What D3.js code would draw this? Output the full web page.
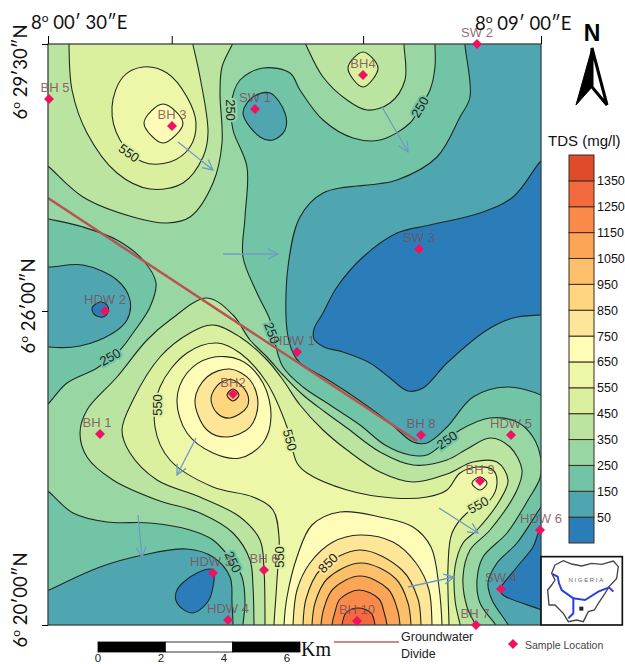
<!DOCTYPE html>
<meta charset="utf-8">
<script src="https://d3js.org/d3.v7.min.js"></script>
<style>
  body { margin: 0; background: white; }
  text { font-family: "Liberation Sans", Arial, sans-serif; }
</style>
<div id="my_dataviz"></div>
<script>
// TDS band limits (mg/l) and colours, lowest band first
var tdsLevels = [50, 150, 250, 350, 450, 550, 650, 750, 850, 950, 1050, 1150, 1250, 1350];
var bandColors = ["#2b7db9", "#4fa6b0", "#71c4a5", "#98d6a4", "#bbe4a0", "#dbf09e", "#eef7a8", "#fefcb6",
                  "#fee698", "#fed680", "#fdbf69", "#fca557", "#fa8a4a", "#f26a3e", "#e04b2c"];

// isolines, as [east, north] in map units (one unit is about 30 m)
var iso50Main = [[500,470],[492,463],[465,428],[432,412],[382,400],[349,392],[315,368],[289,338],[275,312],[266,296],[266,286],[276,278],[295,273],[322,262],[342,247],[360,234],[375,237],[399,262],[439,295],[465,307],[493,310],[500,310]];
var iso50East = [[500,100],[492,95],[485,78],[469,58],[452,35],[455,30],[491,16],[500,12]];
var iso50Hdw3 = [[165,55],[149,52],[129,35],[129,22],[144,12],[159,22],[165,38]];
var iso50Hdw2 = [[44,317],[52,323],[59,320],[60,313],[55,308],[47,310]];

var iso150Main = [[417,589],[417,580],[422,528],[412,508],[389,468],[349,445],[275,432],[252,408],[240,358],[239,295],[245,272],[252,262],[277,247],[299,233],[322,217],[342,202],[365,183],[379,182],[399,198],[425,228],[459,238],[493,230],[500,225]];
var iso150East = [[500,127],[493,118],[469,82],[449,62],[440,42],[444,25],[459,2],[464,-7]];
var iso150Sw1 = [[195,512],[205,528],[222,532],[237,512],[237,495],[225,485],[212,488]];
var iso150West = [[-8,359],[1,358],[35,360],[69,345],[82,325],[79,305],[65,292],[32,279],[1,278],[-8,280]];
var iso150South = [[-8,31],[1,35],[52,58],[95,70],[139,76],[165,68],[182,48],[184,22],[185,0],[185,-7]];

var iso250Main = [[387,589],[387,580],[387,558],[382,535],[372,518],[362,502],[332,485],[305,487],[275,505],[252,535],[242,552],[215,557],[192,545],[183,520],[185,495],[199,458],[197,408],[195,368],[209,332],[222,305],[227,282],[235,258],[255,238],[282,220],[312,200],[337,180],[362,170],[379,170],[399,185],[412,195],[442,207],[469,203],[485,188],[493,165],[492,147],[480,125],[459,92],[435,68],[429,45],[432,22],[447,1],[452,-7]];
var iso250West = [[-8,408],[1,406],[35,398],[69,385],[95,365],[108,342],[102,318],[85,292],[72,275],[49,257],[19,242],[1,222],[-8,213]];
var iso250South = [[-8,140],[1,133],[25,112],[59,103],[102,102],[142,95],[165,85],[185,63],[194,48],[197,22],[195,0],[195,-7]];

var iso350North = [[-8,465],[1,458],[35,428],[85,408],[119,402],[142,408],[165,442],[174,482],[172,532],[174,558],[184,580],[188,589]];
var iso350Bh4 = [[254,589],[258,580],[275,548],[299,525],[319,515],[342,522],[357,545],[356,580],[356,589]];
var iso350Central = [[206,-7],[206,0],[205,38],[202,65],[185,92],[152,112],[109,125],[65,145],[39,168],[32,192],[39,215],[69,248],[99,285],[122,305],[159,327],[185,310],[202,285],[219,268],[235,250],[255,230],[277,213],[299,197],[332,173],[365,160],[399,165],[419,176],[442,187],[462,178],[474,155],[469,135],[442,95],[422,75],[415,48],[419,18],[427,1],[430,-7]];

var iso450North = [[21,589],[21,580],[24,535],[39,492],[69,452],[102,436],[135,442],[155,468],[160,492],[152,548],[145,580],[143,589]];
var iso450Bh4 = [[300,557],[315,573],[330,557],[315,538]];
var iso450Central = [[217,-7],[217,0],[216,55],[212,85],[192,108],[152,128],[109,145],[82,172],[74,195],[85,225],[112,268],[142,292],[165,300],[192,288],[219,265],[235,245],[252,220],[275,195],[299,175],[332,153],[365,143],[399,151],[425,163],[449,163],[460,145],[452,125],[429,95],[415,82],[407,58],[407,25],[412,1],[414,-7]];

var iso550Bh3 = [[72,485],[64,518],[75,548],[95,558],[119,552],[139,528],[148,502],[142,478],[122,463],[95,463]];
var iso550Central = [[226,-7],[226,0],[229,45],[231,88],[225,115],[205,128],[165,138],[122,165],[107,198],[112,238],[139,272],[169,282],[192,272],[219,242],[239,198],[249,162],[259,152],[299,135],[345,127],[379,128],[399,135],[412,152],[429,158],[445,155],[449,142],[442,125],[419,112],[404,92],[400,58],[401,0],[401,-7]];

var iso650Bh3 = [[96,502],[115,521],[135,502],[115,482]];
var iso650Bh9 = [[424,142],[432,148],[439,142],[432,135]];
var iso650Bh2 = [[129,225],[139,252],[162,267],[192,265],[215,242],[223,208],[215,182],[192,167],[165,172],[139,192]];
var iso650Bh10 = [[236,-7],[236,0],[239,28],[249,68],[264,100],[292,113],[332,108],[365,98],[383,78],[391,38],[394,0],[394,-7]];

var iso750Bh2 = [[147,225],[159,248],[182,256],[202,245],[210,222],[202,198],[179,188],[159,195]];
var iso750Bh10 = [[245,-7],[245,0],[249,35],[262,62],[285,83],[312,90],[345,83],[368,62],[381,35],[384,0],[384,-7]];
var iso850Bh2 = [[163,227],[172,242],[185,245],[199,232],[199,218],[182,207],[169,212]];
var iso850Bh10 = [[255,-7],[255,0],[258,26],[272,55],[312,75],[354,55],[370,26],[373,0],[373,-7]];
var iso950Bh2 = [[179,230],[185,236],[191,230],[185,224]];
var iso950Bh10 = [[264,-7],[264,0],[267,22],[279,46],[313,62],[348,46],[360,22],[363,0],[363,-7]];
var iso1050Bh10 = [[273,-7],[273,0],[276,17],[285,36],[312,49],[340,36],[349,17],[352,0],[352,-7]];
var iso1150Bh10 = [[284,-7],[284,0],[287,13],[292,26],[311,35],[331,26],[336,13],[339,0],[339,-7]];
var iso1250Bh10 = [[294,-7],[294,0],[298,12],[310,17],[323,12],[327,0],[327,-7]];

// sample locations
var sampleNames = ["BH 5","BH 3","SW 1","BH4","SW 2","SW 3","HDW 2","HDW 1","BH2","BH 1","BH 8","HDW 5","BH 9","HDW 6","HDW 3","BH 6","SW 4","HDW 4","BH 7","BH 10"];
var sampleEast = [1,124,207,315,429,371,57,249,185,52,373,463,432,492,165,216,453,180,428,309];
var sampleNorth = [526,499,516,550,581,376,314,273,231,191,190,190,144,95,52,55,36,5,0,4];
var sampleNudge = [6,0,0,0,0,0,0,-3,0,-3,0,0,0,1,-2,0,0,0,-1,0];

// contour labels: text, east, north, angle, tds beside the line
var contourLabels = [[550,81,472,35,500],[250,183,515,90,300],[250,372,518,-60,200],[250,224,292,70,200],[250,62,268,-30,200],[550,109,220,-90,500],[550,242,185,75,500],[250,399,185,-35,200],[550,430,120,-30,500],[850,280,62,-45,800],[550,231,68,-90,500],[250,185,63,65,200]];

// groundwater flow arrows [east0, north0, east1, north1] and the divide
var flowArrows = [[130,483,165,455],[175,371,230,371],[334,518,360,473],[148,187,129,150],[90,110,94,68],[391,117,430,92],[360,38,406,48]];
var divideLine = [[0,427],[369,184]];

// graticule
var lonTicks = [30, 158, 356, 540];   // seconds after 8 deg 00'
var latTicks = [0, 360, 570];         // seconds after 6 deg 20'
var scaleKm = [0, 2, 4, 6];

// inset map of Nigeria
var nigeriaOutline = [[60,45],[85,32],[110,42],[140,48],[170,40],[200,43],[235,33],[250,50],[245,85],[222,110],[210,130],[190,160],[178,180],[160,185],[145,215],[125,210],[100,215],[85,190],[60,165],[42,165],[38,120],[50,105],[60,90],[50,70]];
var nigerRiver = [[52,72],[68,80],[72,100],[80,120],[115,145],[115,190],[100,205]];
var benueRiver = [[115,145],[150,150],[190,125],[222,112],[235,125]];

var margin = {top: 44, right: 84, bottom: 39, left: 48},
    width = 625 - margin.left - margin.right,
    height = 664 - margin.top - margin.bottom;

var svg = d3.select("#my_dataviz").append("svg")
    .attr("width", 625).attr("height", 664).style("display", "block");
var map = svg.append("g").attr("transform", "translate(" + margin.left + "," + margin.top + ")");

var x = d3.scaleLinear().domain([0, 493]).range([0, width]);
var y = d3.scaleLinear().domain([0, 581]).range([height, 0]);
var color = d3.scaleThreshold().domain(tdsLevels).range(bandColors);

var openLine = d3.line().x(function(d) { return x(d[0]); }).y(function(d) { return y(d[1]); }).curve(d3.curveCatmullRom.alpha(0.5));
var ringLine = d3.line().x(function(d) { return x(d[0]); }).y(function(d) { return y(d[1]); }).curve(d3.curveCatmullRomClosed.alpha(0.5));

// side: which way the fill goes from the line. shut: where an open line is closed, off the frame
var S = -12, N = 595, W = -12, E = 505;
var contours = [
  {level:250, below:true, pts:iso250Main, shut:[[E,-7],[E,N],[387,N]]},
  {level:250, below:true, pts:iso250West, shut:[[W,213],[W,408]]},
  {level:250, below:true, pts:iso250South, shut:[[195,S],[W,S],[W,140]]},
  {level:150, below:true, pts:iso150Main, shut:[[E,225],[E,N],[417,N]]},
  {level:150, below:true, pts:iso150East, shut:[[464,S],[E,S],[E,127]]},
  {level:150, below:true, pts:iso150Sw1},
  {level:150, below:true, pts:iso150West, shut:[[W,280],[W,359]]},
  {level:150, below:true, pts:iso150South, shut:[[185,S],[W,S],[W,31]]},
  {level:50, below:true, pts:iso50Main, shut:[[E,310],[E,470]]},
  {level:50, below:true, pts:iso50East, shut:[[E,12],[E,100]]},
  {level:50, below:true, pts:iso50Hdw3},
  {level:50, below:true, pts:iso50Hdw2},
  {level:350, pts:iso350North, shut:[[188,N],[W,N],[W,465]]},
  {level:350, pts:iso350Bh4, shut:[[356,N],[254,N]]},
  {level:350, pts:iso350Central, shut:[[430,S],[206,S]]},
  {level:450, pts:iso450North, shut:[[143,N],[21,N]]},
  {level:450, pts:iso450Bh4},
  {level:450, pts:iso450Central, shut:[[414,S],[217,S]]},
  {level:550, pts:iso550Bh3},
  {level:550, pts:iso550Central, shut:[[401,S],[226,S]]},
  {level:650, pts:iso650Bh3},
  {level:650, pts:iso650Bh9},
  {level:650, pts:iso650Bh2},
  {level:650, pts:iso650Bh10, shut:[[394,S],[236,S]]},
  {level:750, pts:iso750Bh2},
  {level:750, pts:iso750Bh10, shut:[[384,S],[245,S]]},
  {level:850, pts:iso850Bh2},
  {level:850, pts:iso850Bh10, shut:[[373,S],[255,S]]},
  {level:950, pts:iso950Bh2},
  {level:950, pts:iso950Bh10, shut:[[363,S],[264,S]]},
  {level:1050, pts:iso1050Bh10, shut:[[352,S],[273,S]]},
  {level:1150, pts:iso1150Bh10, shut:[[339,S],[284,S]]},
  {level:1250, pts:iso1250Bh10, shut:[[327,S],[294,S]]}
];

function fillPath(c) {
  if (!c.shut) return ringLine(c.pts);
  return openLine(c.pts) + c.shut.map(function(p) { return "L" + x(p[0]) + "," + y(p[1]); }).join("") + "Z";
}

svg.append("defs").append("clipPath").attr("id", "frame").append("rect").attr("width", width).attr("height", height);
var head = svg.select("defs").append("marker").attr("id", "flowHead")
    .attr("viewBox", "-11 -6 12 12").attr("markerWidth", 12).attr("markerHeight", 12)
    .attr("markerUnits", "userSpaceOnUse").attr("orient", "auto");
head.append("path").attr("d", "M-10,-5L0,0L-10,5").attr("fill", "none").attr("stroke", "#6c9cc6").attr("stroke-width", 1.3);

var inner = map.append("g").attr("clip-path", "url(#frame)");
inner.append("rect").attr("width", width).attr("height", height).attr("fill", color(300));

inner.selectAll(".band").data(contours).enter().append("path")
    .attr("class", "band")
    .attr("d", fillPath)
    .attr("fill", function(d) { return color(d.below ? d.level - 1 : d.level + 1); });

inner.selectAll(".iso").data(contours).enter().append("path")
    .attr("class", "iso")
    .attr("d", function(d) { return d.shut ? openLine(d.pts) : ringLine(d.pts); })
    .attr("fill", "none").attr("stroke", "#1d2b24").attr("stroke-width", 1.1);

inner.selectAll(".isoLabel").data(contourLabels).enter().append("text")
    .attr("class", "isoLabel")
    .attr("transform", function(d) { return "translate(" + x(d[1]) + "," + y(d[2]) + ") rotate(" + d[3] + ")"; })
    .attr("text-anchor", "middle").attr("dy", "0.35em")
    .style("font-size", "13px").style("paint-order", "stroke")
    .attr("stroke", function(d) { return color(d[4]); }).attr("stroke-width", 4)
    .attr("fill", "#1d2420")
    .text(function(d) { return d[0]; });

inner.append("line")
    .attr("x1", x(divideLine[0][0])).attr("y1", y(divideLine[0][1]))
    .attr("x2", x(divideLine[1][0])).attr("y2", y(divideLine[1][1]))
    .attr("stroke", "#b9534f").attr("stroke-width", 2.4);

map.selectAll(".flow").data(flowArrows).enter().append("line")
    .attr("class", "flow")
    .attr("x1", function(d) { return x(d[0]); }).attr("y1", function(d) { return y(d[1]); })
    .attr("x2", function(d) { return x(d[2]); }).attr("y2", function(d) { return y(d[3]); })
    .attr("stroke", "#6c9cc6").attr("stroke-width", 1.3).attr("marker-end", "url(#flowHead)");

map.append("rect").attr("width", width).attr("height", height)
    .attr("fill", "none").attr("stroke", "#3a4240").attr("stroke-width", 1.3);

// graticule ticks
var lon = d3.scaleLinear().domain([30, 540]).range([0, width]);
var lat = d3.scaleLinear().domain([0, 360, 570]).range([height, 267, 0]);
map.append("g").call(d3.axisTop(lon).tickValues(lonTicks).tickSize(8).tickFormat(""))
    .call(function(g) { g.select(".domain").remove(); });
map.append("g").call(d3.axisLeft(lat).tickValues(latTicks).tickSize(6).tickFormat(""))
    .call(function(g) { g.select(".domain").remove(); });

function coordLabel(t, deg, rest) {
  t.style("font-family", "Lato, sans-serif").style("font-size", "18.5px").attr("fill", "#111");
  t.append("tspan").text(deg);
  t.append("tspan").attr("dy", -7).style("font-size", "12px").text("o");
  t.append("tspan").attr("dy", 7).text(" " + rest);
}
svg.append("text").attr("x", 31).attr("y", 29).call(coordLabel, "8", "00\u2032 30\u2033E");
svg.append("text").attr("x", 475).attr("y", 30).call(coordLabel, "8", "09\u2032 00\u2033E");
svg.append("text").attr("transform", "translate(27,72) rotate(-90)").attr("text-anchor", "middle").call(coordLabel, "6", "29\u203230\u2033N");
svg.append("text").attr("transform", "translate(35,306) rotate(-90)").attr("text-anchor", "middle").call(coordLabel, "6", "26\u203200\u2033N");
svg.append("text").attr("transform", "translate(27,600) rotate(-90)").attr("text-anchor", "middle").call(coordLabel, "6", "20\u203200\u2033N");

// samples
var marker = d3.symbol().type(d3.symbolSquare).size(50);
var samples = map.selectAll(".sample").data(sampleNames).enter().append("g").attr("class", "sample");
samples.append("path").attr("d", marker)
    .attr("transform", function(d, i) { return "translate(" + x(sampleEast[i]) + "," + y(sampleNorth[i]) + ") rotate(45)"; })
    .attr("fill", "#ee1262");
samples.append("text")
    .attr("x", function(d, i) { return x(sampleEast[i]) + sampleNudge[i]; })
    .attr("y", function(d, i) { return y(sampleNorth[i]) - 12; })
    .attr("text-anchor", "middle").attr("dy", "0.35em")
    .style("font-size", "13px").attr("fill", "#7b4f58").attr("fill-opacity", 0.85)
    .text(function(d) { return d; });

// colour legend
var legendY = d3.scaleLinear().domain([-50, 1450]).range([543, 155]);
var legendEdges = [-50].concat(tdsLevels, [1450]);
var legend = svg.append("g").attr("transform", "translate(569,0)");
legend.selectAll("rect").data(bandColors).enter().append("rect")
    .attr("x", 0).attr("width", 25)
    .attr("y", function(d, i) { return legendY(legendEdges[i + 1]); })
    .attr("height", function(d, i) { return legendY(legendEdges[i]) - legendY(legendEdges[i + 1]); })
    .attr("fill", function(d) { return d; })
    .attr("stroke", "#3b2d20").attr("stroke-width", 1);
legend.append("g").attr("transform", "translate(25,0)")
    .call(d3.axisRight(legendY).tickValues(tdsLevels).tickSize(0).tickPadding(3).tickFormat(d3.format("d")))
    .call(function(g) { g.select(".domain").remove(); })
    .selectAll("text").style("font-size", "12.5px").style("font-family", "'Liberation Sans'").attr("fill", "#111");
svg.append("text").attr("x", 548).attr("y", 146).style("font-size", "15px").attr("fill", "#111").text("TDS (mg/l)");

// north arrow
svg.append("text").attr("x", 592).attr("y", 41).attr("text-anchor", "middle")
    .style("font-size", "23px").style("font-weight", "bold").attr("fill", "#000").text("N");
svg.append("path").attr("d", "M592,48L576,105L592,87Z").attr("fill", "#000").attr("stroke", "#000");
svg.append("path").attr("d", "M592,48L607,105L592,87Z").attr("fill", "#fff").attr("stroke", "#000").attr("stroke-width", 3);

// scale bar, the printed numbers sit a little tighter than the bar segments
var km = d3.scaleLinear().domain([0, 6]).range([98, 300]);
var kmText = d3.scaleLinear().domain([0, 6]).range([98, 287]);
svg.selectAll(".kmBar").data(d3.pairs(scaleKm)).enter().append("rect")
    .attr("class", "kmBar")
    .attr("x", function(d) { return km(d[0]); }).attr("y", 642)
    .attr("width", function(d) { return km(d[1]) - km(d[0]); }).attr("height", 10)
    .attr("fill", function(d, i) { return i % 2 ? "#fff" : "#000"; })
    .attr("stroke", "#000").attr("stroke-width", 0.8);
svg.selectAll(".kmText").data(scaleKm).enter().append("text")
    .attr("class", "kmText")
    .attr("x", function(d) { return kmText(d); }).attr("y", 662).attr("text-anchor", "middle")
    .style("font-size", "11.5px").attr("fill", "#222").text(function(d) { return d; });
svg.append("text").attr("x", 301).attr("y", 656).style("font-family", "'Liberation Serif'").style("font-size", "20px").attr("fill", "#111").text("Km");

// bottom legend
svg.append("line").attr("x1", 334).attr("x2", 399).attr("y1", 642).attr("y2", 642).attr("stroke", "#d38482").attr("stroke-width", 2);
svg.append("text").attr("x", 401).attr("y", 641).style("font-size", "12.5px").attr("fill", "#222").text("Groundwater");
svg.append("text").attr("x", 401).attr("y", 658).style("font-size", "12.5px").attr("fill", "#222").text("Divide");
svg.append("path").attr("d", marker).attr("transform", "translate(513,644) rotate(45)").attr("fill", "#ee1262");
svg.append("text").attr("x", 525).attr("y", 649).style("font-size", "10.5px").attr("fill", "#444").text("Sample Location");

// inset
var inset = svg.append("g").attr("transform", "translate(535,550) scale(0.3333)");
inset.append("rect").attr("x", 18).attr("y", 20).attr("width", 244).attr("height", 205)
    .attr("fill", "#fff").attr("stroke", "#111").attr("stroke-width", 5);
var plain = d3.line().curve(d3.curveLinear);
inset.append("path").attr("d", plain(nigeriaOutline) + "Z").attr("fill", "none").attr("stroke", "#444").attr("stroke-width", 4);
inset.append("path").attr("d", plain(nigerRiver)).attr("fill", "none").attr("stroke", "#2a3fe0").attr("stroke-width", 6);
inset.append("path").attr("d", plain(benueRiver)).attr("fill", "none").attr("stroke", "#2a3fe0").attr("stroke-width", 6);
inset.append("rect").attr("x", 133).attr("y", 170).attr("width", 12).attr("height", 12).attr("fill", "#222");
inset.append("text").attr("x", 155).attr("y", 96).attr("text-anchor", "middle")
    .style("font-size", "18px").style("letter-spacing", "5px").attr("fill", "#666").text("NIGERIA");
</script>
</html>
